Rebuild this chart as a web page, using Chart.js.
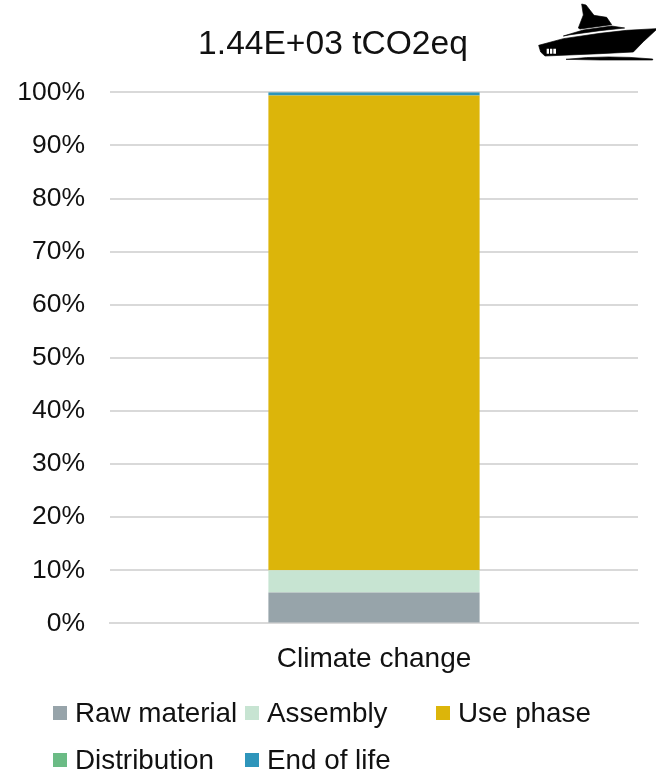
<!DOCTYPE html>
<html>
<head>
<meta charset="utf-8">
<script src="https://cdn.jsdelivr.net/npm/chart.js@4"></script>
<style>
  html, body { margin: 0; padding: 0; background: #fff; }
  #wrap { position: relative; width: 656px; height: 775px; overflow: hidden; font-family: "Liberation Sans", Arial, sans-serif; }
  #boat { position: absolute; left: 500px; top: 0; width: 156px; height: 110px; }
  .key { position: absolute; font-size: 27.8px; line-height: 30px; color: #111; white-space: nowrap; }
  .key i { position: absolute; left: -22px; top: 8px; width: 14px; height: 14px; }
</style>
</head>
<body>
<div id="wrap">
  <canvas id="chart" width="656" height="775"></canvas>
  <svg id="boat" viewBox="0 0 468 330">
    <g fill="#000" stroke="#000" stroke-width="2" stroke-linejoin="round">
      <path d="M116 136 L190 116 L300 100 L380 91 L468 86 L468 90 L430 125 L400 156 L300 161 L135 168 L122 156 Z"/>
      <path d="M190 108 L250 90 L335 78 L374 84 L300 92 L212 104 Z"/>
      <path d="M245 12 L258 15 L282 46 L320 52 L335 74 L240 87 L235 84 L250 45 Z"/>
      <path d="M198 178 Q320 164 458 177 L458 180 L300 180 Z"/>
    </g>
    <path fill="#fff" d="M140 146 h7 v15 h-7 z M150 146 h7 v15 h-7 z M160 146 h8 v15 h-8 z"/>
  </svg>
</div>
<script>
const categories = ['Climate change'];
const seriesNames = ['Raw material', 'Assembly', 'Use phase', 'Distribution', 'End of life'];
const seriesColors = ['#97a4aa', '#c7e4d2', '#dcb50a', '#6bbb85', '#2e95bb'];
const rawMaterial = [5.8];
const assembly = [4.2];
const usePhase = [89.4];
const distribution = [0.02];
const endOfLife = [0.58];
const seriesValues = [rawMaterial, assembly, usePhase, distribution, endOfLife];
const chartTitle = '1.44E+03 tCO2eq';

const textColor = '#111';
const fontFamily = '"Liberation Sans", Arial, sans-serif';

// legend slots, two rows of three columns
const legendSlots = [[75, 698], [267, 698], [458, 698], [75, 745], [267, 745]];

// left padding only centres the title; let the y labels use that strip too
const widenLabelArea = {
  id: 'widenLabelArea',
  afterLayout(chart) { chart.scales.y.left = 0; }
};

new Chart(document.getElementById('chart'), {
  type: 'bar',
  data: {
    labels: categories,
    datasets: seriesNames.map((name, i) => ({
      label: name,
      data: seriesValues[i],
      backgroundColor: seriesColors[i],
      borderWidth: 0,
      barPercentage: 0.4,
      categoryPercentage: 1
    }))
  },
  plugins: [widenLabelArea],
  options: {
    responsive: false,
    animation: false,
    layout: { padding: { left: 28, right: 18, top: 25, bottom: 88 } },
    plugins: {
      legend: { display: false },
      tooltip: { enabled: false },
      title: {
        display: true,
        text: chartTitle,
        color: textColor,
        font: { family: fontFamily, size: 33.6, weight: 'normal' },
        padding: { top: 0, bottom: 27 }
      }
    },
    scales: {
      x: {
        stacked: true,
        grid: { display: false },
        border: { color: '#d9d9d9', width: 2 },
        ticks: { color: textColor, font: { family: fontFamily, size: 28 }, padding: 11 }
      },
      y: {
        stacked: true,
        min: 0,
        max: 100,
        afterFit(scale) { scale.width = 82; },
        grid: { color: '#d9d9d9', lineWidth: 2, drawTicks: false },
        border: { display: false },
        ticks: {
          stepSize: 10,
          padding: 25,
          color: textColor,
          font: { family: fontFamily, size: 26.5 },
          callback: v => v + '%'
        }
      }
    }
  }
});

// html legend under the plot
const wrap = document.getElementById('wrap');
seriesNames.forEach((name, i) => {
  const key = document.createElement('div');
  key.className = 'key';
  key.style.left = legendSlots[i][0] + 'px';
  key.style.top = legendSlots[i][1] + 'px';
  key.textContent = name;
  const swatch = document.createElement('i');
  swatch.style.background = seriesColors[i];
  key.appendChild(swatch);
  wrap.appendChild(key);
});
</script>
</body>
</html>
